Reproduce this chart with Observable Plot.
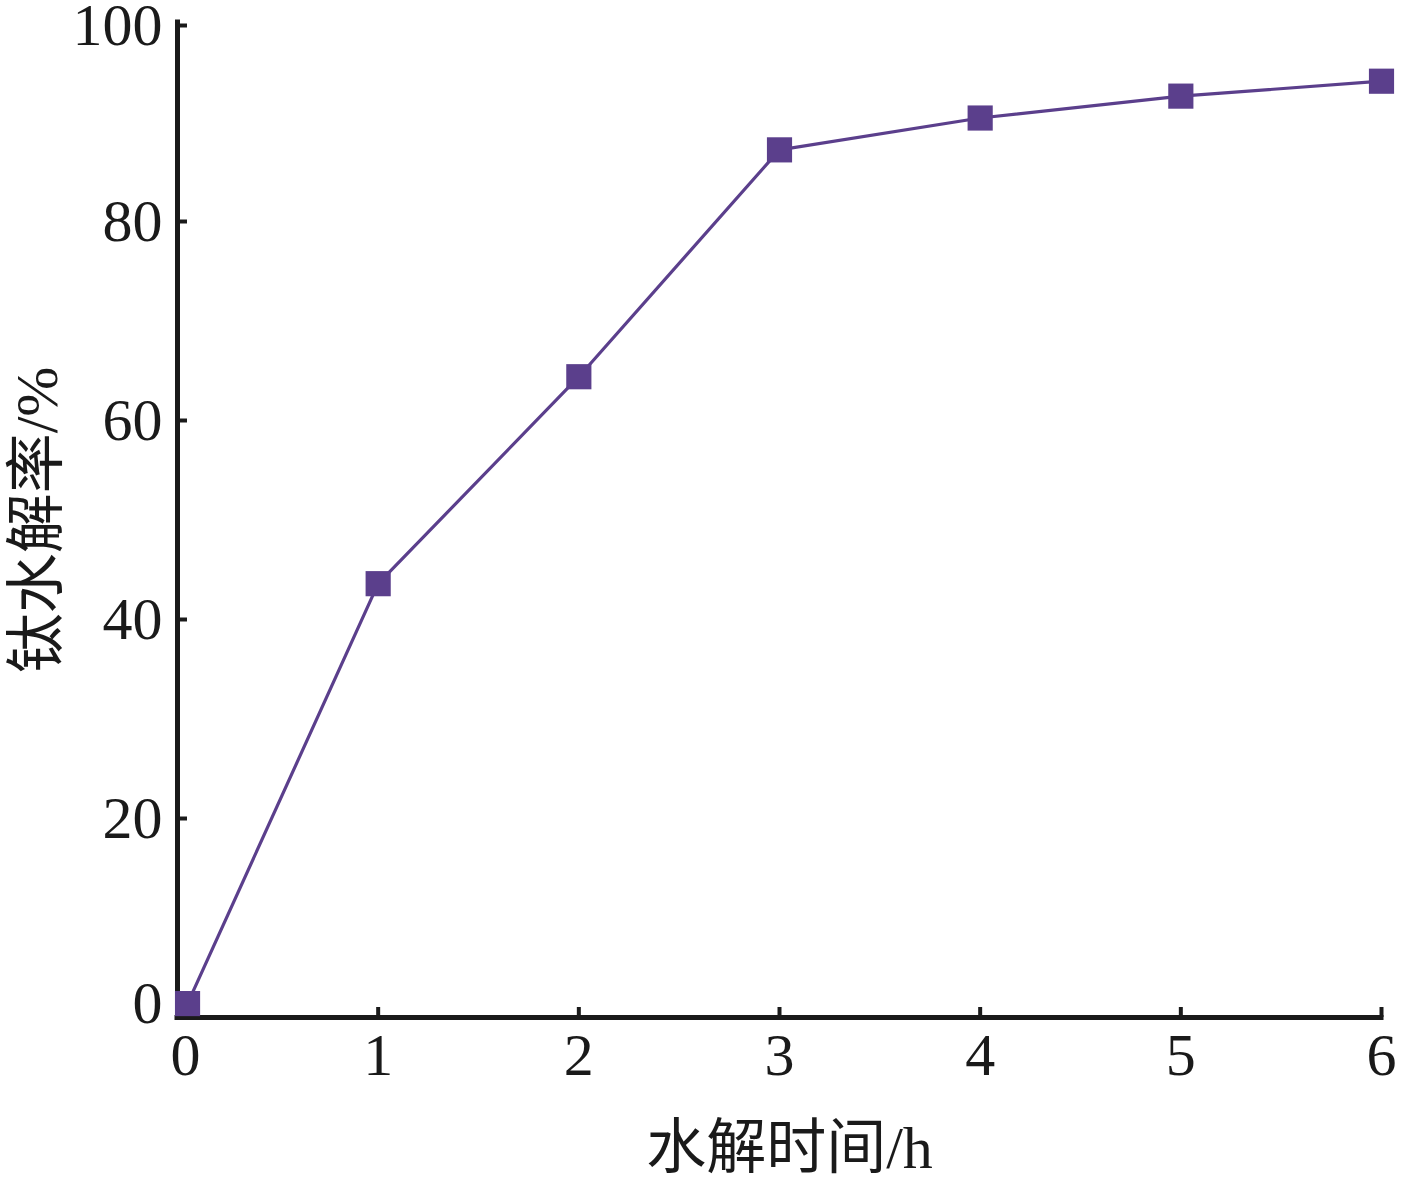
<!DOCTYPE html>
<html><head><meta charset="utf-8">
<script src="https://cdn.jsdelivr.net/npm/d3@7"></script>
<script src="https://cdn.jsdelivr.net/npm/@observablehq/plot@0.6"></script>
<style>body{margin:0;background:#fff}</style>
</head><body><div id="chart"></div>
<script>
const hours = [0.05, 1, 2, 3, 4, 5, 6];
const rate = [1.4, 43.6, 64.4, 87.2, 90.4, 92.6, 94.1];
const xTicks = [0, 1, 2, 3, 4, 5, 6];
const yTicks = [0, 20, 40, 60, 80, 100];
const xLabel = "水解时间/h";
const yLabel = "钛水解率/%";

const data = hours.map((h, i) => ({h, r: rate[i]}));
const color = "#5b3f8c";
const axisColor = "#1a1a1a";
const serif = "'Liberation Serif', 'Times New Roman', serif";
const labelFont = "'Liberation Serif', 'Noto Sans CJK SC', serif";

const chart = Plot.plot({
  width: 1417, height: 1181,
  marginLeft: 177, marginRight: 36, marginTop: 22, marginBottom: 164,
  x: {domain: [0, 6]},
  y: {domain: [0, 100]},
  style: {fontFamily: serif, background: "#fff", overflow: "visible"},
  marks: [
    Plot.ruleY([0], {stroke: axisColor, strokeWidth: 5, strokeLinecap: "square"}),
    Plot.ruleX([0], {stroke: axisColor, strokeWidth: 5, strokeLinecap: "square"}),
    Plot.axisY(yTicks.filter(d => d > 0 && d < 100), {tickSize: -10, tickPadding: 25, strokeWidth: 4, stroke: axisColor, fill: axisColor, fontSize: 60, label: null, tickFormat: d => String(d)}),
    Plot.axisY([100], {tickSize: -10, tickPadding: 25, dy: 3, strokeWidth: 4, stroke: axisColor, fill: axisColor, fontSize: 60, label: null, tickFormat: d => String(d)}),
    Plot.axisY([0], {tickSize: 0, tickPadding: 15, dy: -14, fill: axisColor, fontSize: 60, label: null, tickFormat: d => String(d)}),
    Plot.axisX(xTicks.filter(d => d > 0), {tickSize: -10, tickPadding: 25, strokeWidth: 4, stroke: axisColor, fill: axisColor, fontSize: 60, label: null, tickFormat: d => String(d)}),
    Plot.axisX([0], {tickSize: 0, tickPadding: 15, dx: 8, fill: axisColor, fontSize: 60, label: null, tickFormat: d => String(d)}),
    Plot.line(data, {x: "h", y: "r", stroke: color, strokeWidth: 3.2}),
    Plot.dot(data, {x: "h", y: "r", symbol: "square", r: 14.2, fill: color, stroke: "none"}),
    Plot.text([xLabel], {frameAnchor: "bottom", dy: 150, dx: 10, text: d => d, fontSize: 60, fontFamily: labelFont, fill: axisColor}),
    Plot.text([yLabel], {frameAnchor: "left", textAnchor: "middle", dx: -140, text: d => d, rotate: -90, fontSize: 60, fontFamily: labelFont, fill: axisColor})
  ]
});
document.getElementById("chart").appendChild(chart);
</script>
</body></html>
